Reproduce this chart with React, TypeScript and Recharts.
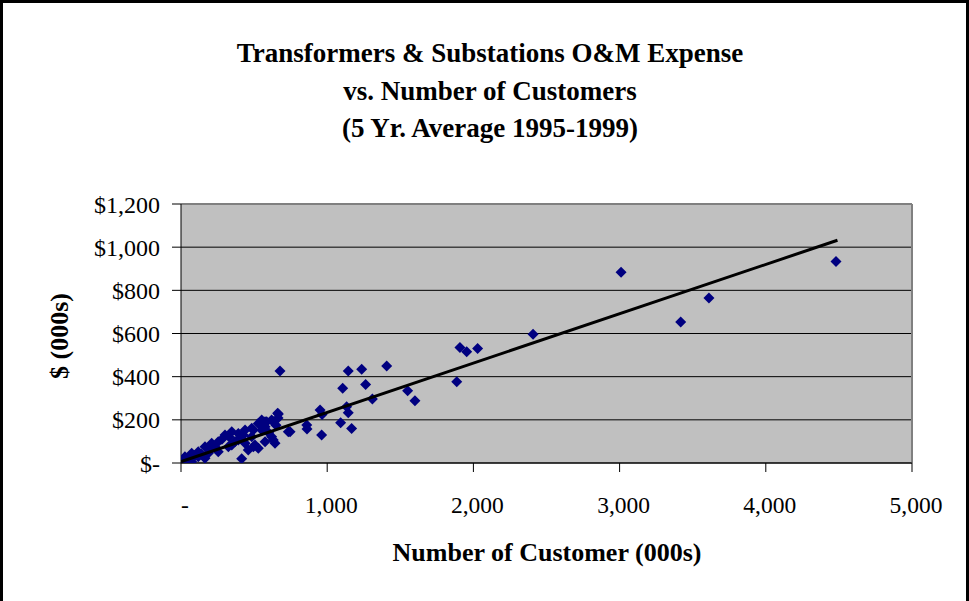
import React from 'react';
import { ScatterChart, Scatter, XAxis, YAxis, CartesianGrid, ReferenceLine } from 'recharts';

const customers: number[] = [
  4480, 3611, 3418, 3010, 2408,
  2029, 1954, 1908, 1886, 1600, 1550, 1407,
  1263, 1236, 1144, 1106, 1309, 1133, 1144, 1092, 1167,
  951, 965, 962, 860, 862,
  746, 677, 661, 664, 631, 586, 563, 495, 426, 631, 529, 495, 415,
  0, 27, 73, 118, 164, 210, 255, 301, 347, 392, 438, 484, 529, 575, 620, 666,
  460, 506, 575, 643, 620, 734, 392, 347, 233, 187, 118, 27, 73, 164, 255, 324,
  438, 484, 552, 575, 552, 10, 50, 95, 140, 200, 280, 330, 370, 420, 600, 650,
];
const expense: number[] = [
  934, 765, 653, 884, 597,
  531, 515, 535, 376, 288, 335, 450,
  364, 434, 426, 346, 296, 261, 233, 187, 160,
  245, 225, 130, 176, 157,
  145, 426, 230, 208, 191, 191, 171, 153, 130, 106, 68, 75, 20,
  6, 29, 45, 52, 75, 91, 99, 130, 145, 137, 153, 161, 183, 191, 199, 227,
  60, 83, 99, 91, 122, 145, 106, 83, 75, 45, 29, 3, 6, 22, 52, 75,
  91, 122, 153, 168, 199, 15, 20, 35, 40, 60, 110, 120, 100, 110, 140, 175,
];
const trendX: number[] = [0, 4490];
const trendY: number[] = [6, 1032];
const xTicks: number[] = [0, 1000, 2000, 3000, 4000, 5000];
const yTicks: number[] = [0, 200, 400, 600, 800, 1000, 1200];
const titleLines: string[] = [
  'Transformers & Substations O&M Expense',
  'vs. Number of Customers',
  '(5 Yr. Average 1995-1999)',
];
const xTitle = 'Number of Customer (000s)';
const yTitle = '$ (000s)';

const points = customers.map((x, i) => ({ x, y: expense[i] }));
const trend = trendX.map((x, i) => ({ x, y: trendY[i] }));

const serif = '"Liberation Serif", "Times New Roman", serif';

const fmtNum = (v: number) => (v === 0 ? '-' : v.toLocaleString('en-US'));
const fmtMoney = (v: number) => (v === 0 ? '$-' : '$' + v.toLocaleString('en-US'));

const Diamond = (props: any) => {
  const { cx, cy } = props;
  if (cx == null || cy == null) return <g />;
  const r = 5.5;
  return (
    <polygon
      points={`${cx},${cy - r} ${cx + r},${cy} ${cx},${cy + r} ${cx - r},${cy}`}
      fill="#000080"
      stroke="none"
    />
  );
};

const NoShape = () => <g />;

export default function App() {
  return (
    <div style={{ position: 'absolute', left: 0, top: 0, width: 969, height: 601, background: '#fff', overflow: 'hidden' }}>
      <ScatterChart
        width={969}
        height={601}
        margin={{ top: 204, right: 57, left: 81, bottom: 78 }}
      >
        <CartesianGrid fill="#C0C0C0" vertical={false} stroke="#000" strokeOpacity={1} />
        <XAxis
          type="number"
          dataKey="x"
          domain={[0, 5000]}
          ticks={xTicks}
          tickFormatter={fmtNum}
          height={60}
          stroke="#000"
          tickSize={9}
          tickMargin={24}
          tick={{ fill: '#000', fontSize: 23.5, fontFamily: serif, dx: 4 }}
          allowDataOverflow
        />
        <YAxis
          type="number"
          dataKey="y"
          domain={[0, 1200]}
          ticks={yTicks}
          tickFormatter={fmtMoney}
          width={100}
          stroke="#000"
          tickSize={9}
          tickMargin={12}
          tick={{ fill: '#000', fontSize: 24, fontFamily: serif }}
          allowDataOverflow
        />
        <ReferenceLine y={1200} stroke="#808080" strokeWidth={2} />
        <ReferenceLine x={5000} stroke="#808080" strokeWidth={2} />
        <Scatter data={points} shape={<Diamond />} isAnimationActive={false} />
        <Scatter
          data={trend}
          line={{ stroke: '#000', strokeWidth: 3 }}
          shape={<NoShape />}
          isAnimationActive={false}
        />
      </ScatterChart>
      {titleLines.map((t, i) => (
        <div
          key={i}
          style={{
            position: 'absolute',
            left: 0,
            width: 980,
            top: 37 + i * 37.5,
            textAlign: 'center',
            fontFamily: serif,
            fontWeight: 'bold',
            fontSize: 27,
            lineHeight: '32px',
            color: '#000',
          }}
        >
          {t}
        </div>
      ))}
      <div
        style={{
          position: 'absolute',
          left: 347,
          width: 400,
          top: 537,
          textAlign: 'center',
          fontFamily: serif,
          fontWeight: 'bold',
          fontSize: 26,
          lineHeight: '32px',
          color: '#000',
        }}
      >
        {xTitle}
      </div>
      <div
        style={{
          position: 'absolute',
          left: 60 - 100,
          top: 336 - 16,
          width: 200,
          textAlign: 'center',
          fontFamily: serif,
          fontWeight: 'bold',
          fontSize: 26,
          lineHeight: '32px',
          color: '#000',
          transform: 'rotate(-90deg)',
        }}
      >
        {yTitle}
      </div>
      <div
        style={{
          position: 'absolute',
          left: 0,
          top: 0,
          width: 969 - 6,
          height: 700,
          borderTop: '3px solid #000',
          borderLeft: '3px solid #000',
          borderRight: '3px solid #000',
          pointerEvents: 'none',
        }}
      />
    </div>
  );
}
